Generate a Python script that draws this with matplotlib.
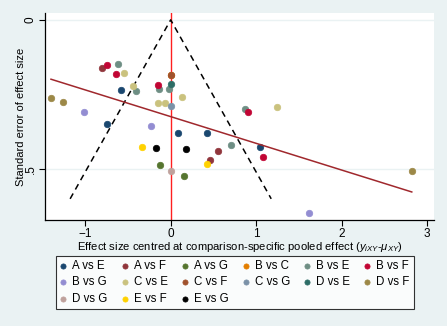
import matplotlib.pyplot as plt
import numpy as np

plt.rcParams['font.family'] = ['Liberation Sans', 'DejaVu Sans']
plt.rcParams['mathtext.fontset'] = 'custom'
plt.rcParams['mathtext.rm'] = 'Liberation Sans'
plt.rcParams['mathtext.it'] = 'Liberation Sans:italic'

# comparisons and their (centred effect, standard error) points
comparisons = ['A vs E', 'A vs F', 'A vs G', 'B vs C', 'B vs E', 'B vs F',
               'B vs G', 'C vs E', 'C vs F', 'C vs G', 'D vs E', 'D vs F',
               'D vs G', 'E vs F', 'E vs G']
colors = ['#1A476F', '#90353B', '#55752F', '#E37E00', '#6E8E84', '#C10534',
          '#938DD2', '#CAC27E', '#A0522D', '#7B92A8', '#2D6D66', '#9C8847',
          '#BFA19C', '#FFD200', '#000000']

a_vs_e_x = [-0.75, -0.58, 0.09, 0.43, 1.045]
a_vs_e_y = [0.350, 0.236, 0.380, 0.380, 0.426]
a_vs_f_x = [-0.80, 0.55, 0.46]
a_vs_f_y = [0.162, 0.438, 0.471]
a_vs_g_x = [-0.125, 0.15]
a_vs_g_y = [0.488, 0.523]
b_vs_c_x = [0.0]
b_vs_c_y = [0.186]
b_vs_e_x = [-0.62, -0.40, -0.14, -0.02, 0.70, 0.87]
b_vs_e_y = [0.148, 0.240, 0.233, 0.232, 0.419, 0.300]
b_vs_f_x = [-0.75, -0.64, -0.15, 0.90, 1.08]
b_vs_f_y = [0.152, 0.183, 0.218, 0.310, 0.460]
b_vs_g_x = [-1.01, -0.23, 1.62]
b_vs_g_y = [0.310, 0.356, 0.649]
c_vs_e_x = [-0.55, -0.44, -0.15, -0.07, 0.13, 1.24]
c_vs_e_y = [0.177, 0.223, 0.279, 0.280, 0.258, 0.293]
c_vs_f_x = [0.0]
c_vs_f_y = [0.186]
c_vs_g_x = [0.0]
c_vs_g_y = [0.288]
d_vs_e_x = [0.0]
d_vs_e_y = [0.215]
d_vs_f_x = [-1.40, -1.26, 2.82]
d_vs_f_y = [0.261, 0.277, 0.506]
d_vs_g_x = [0.0]
d_vs_g_y = [0.508]
e_vs_f_x = [-0.34, 0.42]
e_vs_f_y = [0.426, 0.483]
e_vs_g_x = [-0.17, 0.18]
e_vs_g_y = [0.428, 0.432]

xs = [a_vs_e_x, a_vs_f_x, a_vs_g_x, b_vs_c_x, b_vs_e_x, b_vs_f_x, b_vs_g_x,
      c_vs_e_x, c_vs_f_x, c_vs_g_x, d_vs_e_x, d_vs_f_x, d_vs_g_x, e_vs_f_x, e_vs_g_x]
ys = [a_vs_e_y, a_vs_f_y, a_vs_g_y, b_vs_c_y, b_vs_e_y, b_vs_f_y, b_vs_g_y,
      c_vs_e_y, c_vs_f_y, c_vs_g_y, d_vs_e_y, d_vs_f_y, d_vs_g_y, e_vs_f_y, e_vs_g_y]

# pseudo 95% limits and the fitted line
funnel_x = [-1.176, 0.0, 1.176]
funnel_y = [0.6, 0.0, 0.6]
reg_x = [-1.40, 2.82]
reg_y = [0.199, 0.577]

x_ticks = [-1, 0, 1, 2, 3]
y_ticks = [0, 0.5]
y_ticklabels = ['0', '.5']

bg = '#EAF2F3'
fig = plt.figure(figsize=(4.47, 3.26), dpi=100, facecolor=bg)
ax = fig.add_axes([45 / 447, 1 - 220 / 326, 389 / 447, 207 / 326])
ax.set_facecolor('white')

for t in y_ticks:
    ax.axhline(t, color=bg, lw=1.0, zorder=0)
ax.axvline(0, color='#FF2020', lw=1.0, zorder=1)
ax.plot(funnel_x, funnel_y, color='black', ls=(0, (4, 3)), lw=1.1, zorder=2)

handles = []
for name, c, x, y in zip(comparisons, colors, xs, ys):
    h = ax.scatter(x, y, s=22, color=c, edgecolors=c, linewidths=0.5, label=name, zorder=3)
    handles.append(h)

ax.plot(reg_x, reg_y, color='#A0282D', lw=1.1, zorder=4)

ax.set_xlim(-1.47, 3.08)
ax.set_ylim(0.671, -0.023)
ax.set_xticks(x_ticks)
ax.set_yticks(y_ticks)
ax.set_yticklabels(y_ticklabels, rotation=90, va='center')
ax.tick_params(labelsize=8.5, length=4, width=0.8, pad=2)
for s in ['top', 'right']:
    ax.spines[s].set_visible(False)
for s in ['left', 'bottom']:
    ax.spines[s].set_linewidth(0.9)

ax.set_xlabel('Effect size centred at comparison-specific pooled effect '
              r'($y_{iXY}$-$\mu_{XY}$)', fontsize=8.1, labelpad=0)
ax.set_ylabel('Standard error of effect size', fontsize=8.0)
ax.yaxis.set_label_coords(-0.049, 0.5)

# legend fills row by row like the original
order = [0, 6, 12, 1, 7, 13, 2, 8, 14, 3, 9, 4, 10, 5, 11]
leg = fig.legend([handles[i] for i in order], [comparisons[i] for i in order],
                 loc='upper left', bbox_to_anchor=(56 / 447, 1 - 256 / 326),
                 borderaxespad=0, ncol=6, fontsize=8.3, frameon=True,
                 fancybox=False, edgecolor='black', handletextpad=0.45,
                 columnspacing=1.22, handlelength=0.6, borderpad=0.35,
                 labelspacing=0.38, markerscale=0.8)
leg.get_frame().set_linewidth(0.8)

fig.savefig('out.png', dpi=100, facecolor=bg)
